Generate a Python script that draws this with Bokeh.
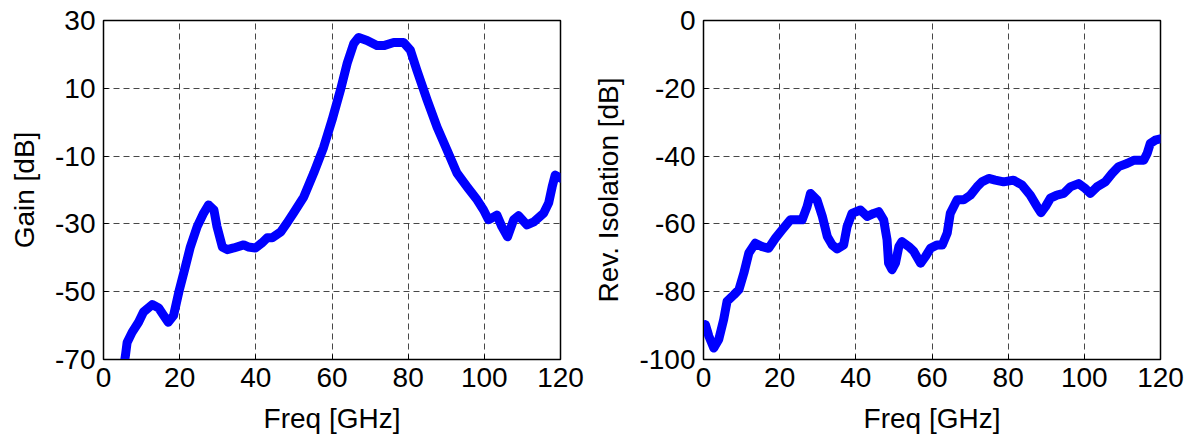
from bokeh.plotting import figure
from bokeh.layouts import row
from bokeh.models import FixedTicker, Range1d, CustomJSTickFormatter
from bokeh.embed import file_html
from bokeh.resources import INLINE

# Gain [dB] vs frequency [GHz]
gain_freq = [5.6, 5.8, 6.2, 7.5, 9.2, 10.5, 12.8, 14.5, 15.8, 17.0, 18.4, 19.8, 21.5, 22.8,
             24.6, 26.3, 27.6, 29.0, 29.8, 31.2, 32.5, 34.2, 36.8, 38.0, 39.9, 41.6, 43.0,
             44.3, 46.5, 48.2, 49.9, 52.6, 55.2, 57.8, 60.0, 62.2, 64.0, 65.7, 67.0, 69.2,
             71.8, 73.6, 76.2, 78.8, 80.6, 82.3, 85.0, 87.6, 90.2, 92.8, 95.5, 98.1, 99.8,
             101.1, 103.3, 104.6, 106.1, 107.7, 109.0, 111.2, 113.0, 115.6, 116.9, 117.8,
             118.6, 120.0]
gain_db = [-70.0, -68.5, -65.0, -62.0, -59.0, -56.0, -53.8, -54.8, -57.0, -59.0, -57.0, -50.0,
           -42.6, -36.8, -30.8, -26.8, -24.4, -25.9, -30.8, -36.8, -37.6, -37.1, -36.2, -36.8,
           -37.1, -35.6, -34.1, -34.1, -32.4, -29.7, -26.8, -22.0, -15.0, -7.4, 0.6, 9.4,
           17.4, 23.2, 25.0, 24.1, 22.6, 22.6, 23.5, 23.5, 21.2, 15.3, 6.5, -1.5, -8.2, -15.0,
           -19.1, -22.9, -25.9, -28.8, -27.4, -30.8, -33.8, -28.8, -27.6, -30.3, -29.4,
           -26.8, -23.8, -19.1, -15.6, -16.5]

# Reverse isolation [dB] vs frequency [GHz]
iso_freq = [0.3, 0.5, 1.4, 2.7, 4.0, 5.3, 6.2, 8.0, 9.3, 10.6, 11.9, 13.6, 15.4, 17.1, 18.9,
            20.6, 22.8, 24.6, 25.9, 27.2, 28.1, 29.8, 31.2, 32.5, 33.8, 35.1, 36.8, 37.7,
            39.0, 41.2, 43.0, 44.7, 46.0, 47.3, 48.2, 48.6, 49.5, 50.4, 51.3, 52.1, 53.9,
            55.2, 57.0, 58.3, 59.6, 61.3, 62.7, 64.0, 64.8, 66.6, 68.3, 70.1, 71.8, 73.1,
            74.9, 76.6, 78.8, 81.4, 83.6, 85.8, 87.6, 88.6, 89.8, 91.1, 92.8, 94.6, 96.3,
            98.5, 100.3, 101.6, 103.3, 105.5, 107.3, 109.0, 111.2, 113.0, 115.6, 116.5,
            117.3, 118.6, 120.0]
iso_db = [-91.0, -89.7, -93.1, -96.6, -94.1, -88.2, -82.8, -80.9, -79.4, -74.5, -68.6, -65.7,
          -66.7, -67.2, -64.2, -61.8, -58.8, -58.8, -58.8, -54.9, -51.0, -52.9, -57.8, -63.7,
          -66.2, -67.4, -66.2, -60.8, -56.9, -55.9, -57.8, -56.9, -56.4, -58.8, -64.7, -71.6,
          -73.5, -71.6, -66.7, -65.2, -66.7, -68.1, -71.6, -69.6, -67.2, -66.2, -66.2, -62.7,
          -56.9, -52.9, -52.9, -51.5, -49.1, -47.6, -46.6, -47.1, -47.6, -47.1, -48.5, -51.5,
          -54.9, -56.7, -54.9, -52.4, -51.5, -51.0, -49.1, -48.1, -49.6, -51.0, -49.1, -47.6,
          -45.1, -43.1, -42.2, -41.2, -41.2, -39.2, -36.3, -35.3, -34.9]

x_ticks = [0, 20, 40, 60, 80, 100, 120]
gain_ticks = [-70, -50, -30, -10, 10, 30]
iso_ticks = [-100, -80, -60, -40, -20, 0]

FONT = "Liberation Sans"
FS = "28px"


def make_fig(xs, ys, yticks, ylabel, width, border_left, border_right):
    p = figure(width=width, height=436, output_backend="svg", toolbar_location=None,
               x_range=Range1d(0, 120), y_range=Range1d(yticks[0], yticks[-1]),
               min_border_left=border_left, min_border_right=border_right,
               min_border_top=20, min_border_bottom=76)
    p.line(xs, ys, line_width=9, color="#0000FF", line_join="round", line_cap="round")
    p.xaxis.ticker = FixedTicker(ticks=x_ticks)
    p.yaxis.ticker = FixedTicker(ticks=yticks)
    p.xaxis.formatter = CustomJSTickFormatter(code="return String(tick);")
    p.yaxis.formatter = CustomJSTickFormatter(code="return String(tick);")
    p.xaxis.axis_label = "Freq [GHz]"
    p.yaxis.axis_label = ylabel
    for ax in (p.xaxis[0], p.yaxis[0]):
        ax.major_label_text_font = FONT
        ax.major_label_text_font_size = FS
        ax.major_label_text_color = "black"
        ax.axis_label_text_font = FONT
        ax.axis_label_text_font_size = FS
        ax.axis_label_text_font_style = "normal"
        ax.axis_label_text_color = "black"
        ax.major_tick_in = 5
        ax.major_tick_out = 0
        ax.minor_tick_in = 0
        ax.minor_tick_out = 0
        ax.axis_line_color = "black"
        ax.major_tick_line_color = "black"
    p.xaxis.major_label_standoff = 8
    p.xaxis.axis_label_standoff = 13
    p.yaxis.major_label_standoff = 8
    p.yaxis.axis_label_standoff = 12
    for g in (p.xgrid[0], p.ygrid[0]):
        g.grid_line_color = "#333333"
        g.grid_line_dash = "6 4"
        g.grid_line_width = 1
        g.grid_line_alpha = 0.9
    p.outline_line_color = "black"
    p.outline_line_width = 1.5
    p.outline_line_alpha = 1
    p.background_fill_color = "white"
    p.border_fill_color = "white"
    return p


p1 = make_fig(gain_freq, gain_db, gain_ticks, "Gain [dB]", 589, 103, 29)
p2 = make_fig(iso_freq, iso_db, iso_ticks, "Rev. Isolation [dB]", 600, 114, 29)

layout = row(p1, p2)
open("out.html", "w").write(file_html(layout, INLINE))
